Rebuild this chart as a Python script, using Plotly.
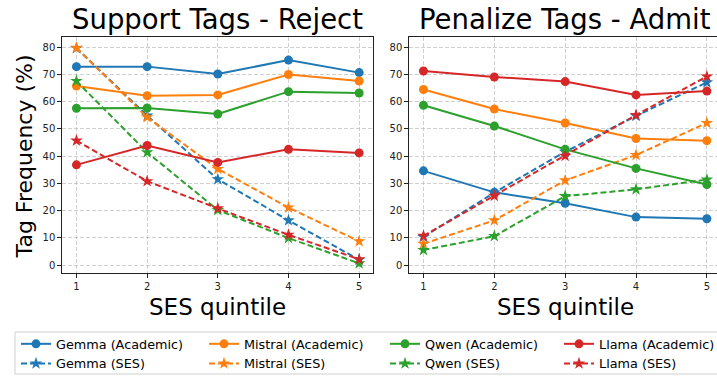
import plotly.graph_objects as go

W, H = 717, 376

quintiles = [1, 2, 3, 4, 5]
y_ticks = [0, 10, 20, 30, 40, 50, 60, 70, 80]

models = ["Gemma", "Mistral", "Qwen", "Llama"]
colors = ["#1f77b4", "#ff7f0e", "#2ca02c", "#d62728"]

# Support Tags - Reject
reject_academic = {
    "Gemma":   [72.9, 72.9, 70.2, 75.3, 70.7],
    "Mistral": [65.8, 62.2, 62.5, 70.0, 67.6],
    "Qwen":    [57.6, 57.7, 55.5, 63.7, 63.2],
    "Llama":   [36.8, 43.9, 37.7, 42.5, 41.2],
}
reject_ses = {
    "Gemma":   [79.7, 54.9, 31.5, 16.4, 1.9],
    "Mistral": [79.8, 54.3, 35.3, 21.1, 8.7],
    "Qwen":    [67.6, 41.4, 20.2, 9.9, 0.6],
    "Llama":   [45.7, 30.8, 20.8, 11.1, 2.1],
}

# Penalize Tags - Admit
admit_academic = {
    "Gemma":   [34.6, 26.7, 22.7, 17.6, 17.0],
    "Mistral": [64.5, 57.3, 52.2, 46.5, 45.7],
    "Qwen":    [58.7, 51.1, 42.5, 35.5, 29.6],
    "Llama":   [71.3, 69.1, 67.4, 62.5, 63.9],
}
admit_ses = {
    "Gemma":   [10.3, 26.6, 41.6, 54.8, 67.1],
    "Mistral": [7.8, 16.4, 31.1, 40.4, 52.2],
    "Qwen":    [5.5, 10.6, 25.3, 27.8, 31.4],
    "Llama":   [10.7, 25.4, 40.1, 55.1, 69.3],
}

titles = ["Support Tags - Reject", "Penalize Tags - Admit"]
x_label = "SES quintile"
y_label = "Tag Frequency (%)"

FONT = "DejaVu Sans"

fig = go.Figure()

legend_names = ["legend", "legend2", "legend3", "legend4"]

panels = [(reject_academic, reject_ses, "x", "y"), (admit_academic, admit_ses, "x2", "y2")]
for pi, (acad, ses, xa, ya) in enumerate(panels):
    for mi, m in enumerate(models):
        c = colors[mi]
        fig.add_trace(go.Scatter(
            x=quintiles, y=acad[m], mode="lines+markers", name=f"{m} (Academic)",
            line=dict(color=c, width=2), marker=dict(symbol="circle", size=9, color=c),
            xaxis=xa, yaxis=ya, showlegend=(pi == 0), legend=legend_names[mi],
        ))
        fig.add_trace(go.Scatter(
            x=quintiles, y=ses[m], mode="lines+markers", name=f"{m} (SES)",
            line=dict(color=c, width=2, dash="6px,3px"), marker=dict(symbol="star", size=9.5, color=c),
            xaxis=xa, yaxis=ya, showlegend=(pi == 0), legend=legend_names[mi],
        ))

def px_x(p):
    return p / W

def px_y(p):
    return 1 - p / H

ydom = [px_y(273.3), px_y(36.7)]
xdom1 = [px_x(62.3), px_x(373.3)]
xdom2 = [px_x(409.3), 1.0]

axis_common = dict(
    showline=True, linecolor="#222", linewidth=1, mirror=True,
    showgrid=True, gridcolor="rgba(176,176,176,0.6)", griddash="4px,2px", gridwidth=1,
    ticks="outside", ticklen=4, tickcolor="#222", tickwidth=1,
    tickfont=dict(family=FONT, size=10, color="#222"), zeroline=False,
)

fig.update_layout(
    width=W, height=H, margin=dict(l=0, r=0, t=0, b=0, autoexpand=False),
    paper_bgcolor="white", plot_bgcolor="white",
    font=dict(family=FONT, color="#000"),
    xaxis=dict(domain=xdom1, range=[0.8, 5.2], tickvals=quintiles, anchor="y", **axis_common),
    yaxis=dict(domain=ydom, range=[-3.05, 83.9], tickvals=y_ticks, anchor="x", **axis_common),
    xaxis2=dict(domain=xdom2, range=[0.8, 0.8 + (W - 409.3) / 70.85], tickvals=quintiles, anchor="y2", **axis_common),
    yaxis2=dict(domain=ydom, range=[-3.05, 83.9], tickvals=y_ticks, anchor="x2", **axis_common),
)

col_x = [16, 204, 385, 559]
for i, ln in enumerate(legend_names):
    fig.update_layout(**{ln: dict(
        x=px_x(col_x[i]), y=px_y(329), xanchor="left", yanchor="top",
        orientation="v", bgcolor="rgba(0,0,0,0)", borderwidth=0,
        font=dict(family=FONT, size=12.8, color="#000"), tracegroupgap=0,
        itemclick=False, itemdoubleclick=False,
    )})

fig.add_shape(type="rect", xref="paper", yref="paper",
              x0=px_x(15), x1=px_x(730), y0=px_y(374), y1=px_y(332),
              line=dict(color="#d0d0d0", width=1), fillcolor="rgba(0,0,0,0)", layer="below")

annotations = []
centers = [(62.3 + 373.3) / 2, (409.3 + 720.9) / 2]
for i, t in enumerate(titles):
    annotations.append(dict(text=t, x=px_x(centers[i]), y=px_y(19), xref="paper", yref="paper",
                            xanchor="center", yanchor="middle", showarrow=False,
                            font=dict(family=FONT, size=27.5, color="#000")))
    annotations.append(dict(text=x_label, x=px_x(centers[i]), y=px_y(307), xref="paper", yref="paper",
                            xanchor="center", yanchor="middle", showarrow=False,
                            font=dict(family=FONT, size=23, color="#000")))
annotations.append(dict(text=y_label, x=px_x(24.4), y=px_y(156), xref="paper", yref="paper",
                        xanchor="center", yanchor="middle", showarrow=False, textangle=-90,
                        font=dict(family=FONT, size=22, color="#000")))
fig.update_layout(annotations=annotations)

fig.write_html(
    "out.html",
    config={"displayModeBar": False},
    post_script="document.body.style.margin='0';document.documentElement.style.overflow='hidden';",
)
